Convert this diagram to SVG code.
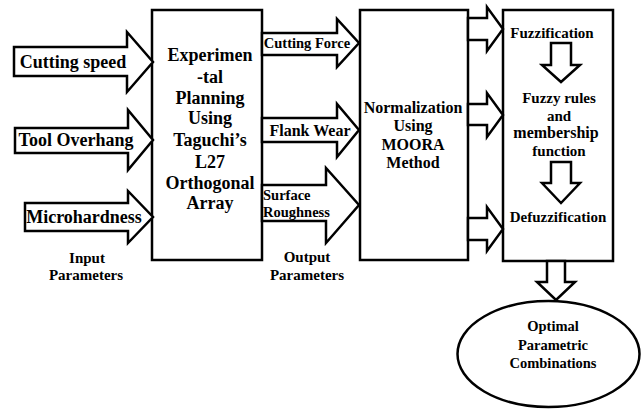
<svg xmlns="http://www.w3.org/2000/svg" width="644" height="409" viewBox="0 0 644 409" font-family="Liberation Serif, Tinos, Times New Roman, DejaVu Serif, serif">
<style>
.box{fill:#fff;stroke:#000;stroke-width:2.5}
.arr{fill:#fff;stroke:#000;stroke-width:2.5;stroke-linejoin:miter}
text{font-family:'Liberation Serif',Tinos,'Times New Roman','DejaVu Serif',serif;font-weight:bold;fill:#000;text-anchor:middle}
.t18{font-size:18px}
.t16{font-size:16px}
.t15{font-size:15px}
.t14{font-size:14.5px}
</style>
<rect width="644" height="409" fill="#fff"/>
<g id="experimental-planning">
<rect class="box" x="152" y="10" width="110" height="250"/>
<text class="t18" x="210" y="61">Experimen</text>
<text class="t18" x="210" y="83">-tal</text>
<text class="t18" x="210" y="104">Planning</text>
<text class="t18" x="210" y="124">Using</text>
<text class="t18" x="210" y="146">Taguchi’s</text>
<text class="t18" x="210" y="168">L27</text>
<text class="t18" x="210" y="189">Orthogonal</text>
<text class="t18" x="210" y="209">Array</text>
</g>
<g id="normalization">
<rect class="box" x="360" y="10" width="108" height="250"/>
<text class="t16" x="413" y="113">Normalization</text>
<text class="t16" x="413" y="131">Using</text>
<text class="t16" x="413" y="150">MOORA</text>
<text class="t16" x="413" y="168">Method</text>
</g>
<g id="fuzzy">
<rect class="box" x="503" y="10" width="110" height="251"/>
<text class="t15" x="552" y="38">Fuzzification</text>
<text class="t15" x="559" y="103">Fuzzy rules</text>
<text class="t15" x="559" y="121">and</text>
<text class="t16" x="556" y="138">membership</text>
<text class="t15" x="559" y="156">function</text>
<text class="t15" x="558" y="222">Defuzzification</text>
<polygon class="arr" points="551,43 571,43 571,65 580,65 561,82 542,65 551,65"/>
<polygon class="arr" points="551,162 571,162 571,183 580,183 561,203 542,183 551,183"/>
</g>
<g id="optimal">
<ellipse class="box" cx="548.5" cy="354" rx="91" ry="53"/>
<text class="t14" x="553" y="331">Optimal</text>
<text class="t14" x="553" y="350">Parametric</text>
<text class="t14" x="553" y="368">Combinations</text>
</g>
<g id="input-label">
<text class="t15" x="87" y="263">Input</text>
<text class="t15" x="86" y="280">Parameters</text>
</g>
<g id="output-label">
<text class="t15" x="307" y="262">Output</text>
<text class="t15" x="307" y="280">Parameters</text>
</g>
<g id="connectors">
<polygon class="arr" points="14,47 127,47 127,32 153,62 127,92 127,76 14,76"/>
<text class="t18" x="73" y="68">Cutting speed</text>
<polygon class="arr" points="15,128 128,128 128,110 153,140 128,170 128,153 15,153"/>
<text class="t18" x="76" y="146">Tool Overhang</text>
<polygon class="arr" points="25,203 128,203 128,191 153,217 128,243 128,231 25,231"/>
<text class="t18" x="84" y="223">Microhardness</text>
<polygon class="arr" points="262,33 337,33 337,19 359,43 337,67 337,55 262,55"/>
<text class="t14" x="307" y="48">Cutting Force</text>
<polygon class="arr" points="262,118 337,118 337,104 359,130 337,157 337,142 262,142"/>
<text class="t16" x="310" y="136">Flank Wear</text>
<polygon class="arr" points="262,185 326,185 326,168 359,205 326,243 326,221 262,221"/>
<text class="t14" x="263" y="200" style="text-anchor:start">Surface</text>
<text class="t14" x="263" y="217" style="text-anchor:start">Roughness</text>
<polygon class="arr" points="468,18 487,18 487,7 503,29 487,51 487,40 468,40"/>
<polygon class="arr" points="468,104 487,104 487,93 503,115 487,137 487,125 468,125"/>
<polygon class="arr" points="468,218 487,218 487,207 503,229 487,251 487,240 468,240"/>
<polygon class="arr" points="547,261 565,261 565,282 575,282 556,300 537,282 547,282"/>
</g>
</svg>
